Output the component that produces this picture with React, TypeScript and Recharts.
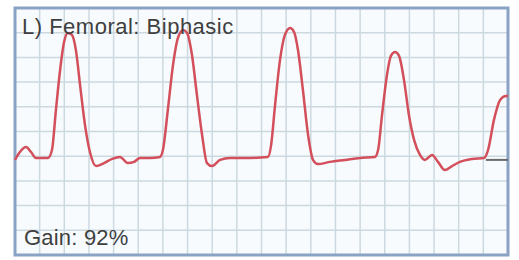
import { CartesianGrid, Line, LineChart, ReferenceArea, XAxis, YAxis } from "recharts"

// waveform, in grid units (20 columns x 10 rows)
const waveX = [
  0, 0.2, 0.45, 0.65, 0.85, 1.34, 1.5, 1.66, 1.83, 1.99, 2.15, 2.31, 2.47, 2.64, 2.84, 3.04, 3.29, 3.61, 3.94,
  4.26, 4.58, 4.83, 5.07, 5.48, 5.88, 6.0, 6.2, 6.41, 6.61, 6.82, 6.98, 7.18, 7.38, 7.59, 7.79, 7.99, 8.32, 8.72,
  9.53, 10.26, 10.39, 10.55, 10.75, 10.95, 11.16, 11.32, 11.48, 11.68, 11.89, 12.09, 12.29, 12.78, 13.39, 14.0,
  14.6, 14.73, 14.89, 15.09, 15.25, 15.42, 15.58, 15.78, 15.98, 16.19, 16.43, 16.63, 16.92, 17.16, 17.44, 17.73,
  18.05, 18.54, 19.03, 19.19, 19.43, 19.68, 19.92, 20,
]
const waveY = [
  3.85, 4.17, 4.37, 4.17, 3.93, 3.93, 4.25, 5.87, 7.49, 8.62, 8.99, 8.91, 8.3, 6.88, 5.26, 4.17, 3.6, 3.72, 3.89,
  3.97, 3.72, 3.77, 3.93, 3.93, 3.97, 4.25, 5.87, 7.69, 8.79, 9.11, 8.99, 8.1, 6.48, 4.86, 3.72, 3.6, 3.85, 3.93,
  3.93, 3.97, 4.45, 6.07, 7.89, 8.91, 9.19, 9.03, 8.3, 6.68, 4.86, 3.85, 3.68, 3.77, 3.85, 3.93,
  3.97, 4.25, 5.67, 7.29, 8.06, 8.22, 8.06, 7.09, 5.67, 4.66, 4.05, 3.85, 4.05, 3.77, 3.44, 3.6,
  3.77, 3.89, 3.93, 4.25, 5.47, 6.28, 6.44, 6.44,
]

// sweep cursor at the right edge
const cursorX = [19.1, 20]
const cursorY = [3.85, 3.85]

const xTicks = Array.from({ length: 21 }, (_, i) => i)
const yTicks = Array.from({ length: 11 }, (_, i) => i)

const title = "L) Femoral: Biphasic"
const gain = "Gain: 92%"

const wave = waveX.map((x, i) => ({ x, v: waveY[i] }))
const cursor = cursorX.map((x, i) => ({ x, v: cursorY[i] }))

const textStyle = {
  position: "absolute" as const,
  fontFamily: "'Liberation Sans', Arial, sans-serif",
  fontSize: 22,
  color: "#3f3f3f",
  lineHeight: 1,
  letterSpacing: 0.5,
}

export default function App() {
  return (
    <div style={{ position: "absolute", left: 0, top: 0, width: 519, height: 260, background: "#ffffff" }}>
      <LineChart width={519} height={260} margin={{ top: 8, right: 11, bottom: 5, left: 15 }}>
        <XAxis dataKey="x" type="number" domain={[0, 20]} ticks={xTicks} interval={0} hide allowDuplicatedCategory={false} />
        <YAxis type="number" domain={[0, 10]} ticks={yTicks} interval={0} hide />
        <CartesianGrid stroke="#cdd9e0" strokeWidth={1.5} fill="#f7fbfd" />
        <Line
          data={wave}
          dataKey="v"
          type="monotone"
          stroke="#d24f5b"
          strokeWidth={2.5}
          dot={false}
          isAnimationActive={false}
        />
        <Line
          data={cursor}
          dataKey="v"
          type="linear"
          stroke="#6b6b6b"
          strokeWidth={2}
          dot={false}
          isAnimationActive={false}
        />
        <ReferenceArea x1={0} x2={20} y1={0} y2={10} fill="none" stroke="#8aa2c4" strokeWidth={3} ifOverflow="visible" />
      </LineChart>
      <div style={{ ...textStyle, left: 22, top: 16 }}>{title}</div>
      <div style={{ ...textStyle, left: 24, top: 227, letterSpacing: 0.2 }}>{gain}</div>
    </div>
  )
}
